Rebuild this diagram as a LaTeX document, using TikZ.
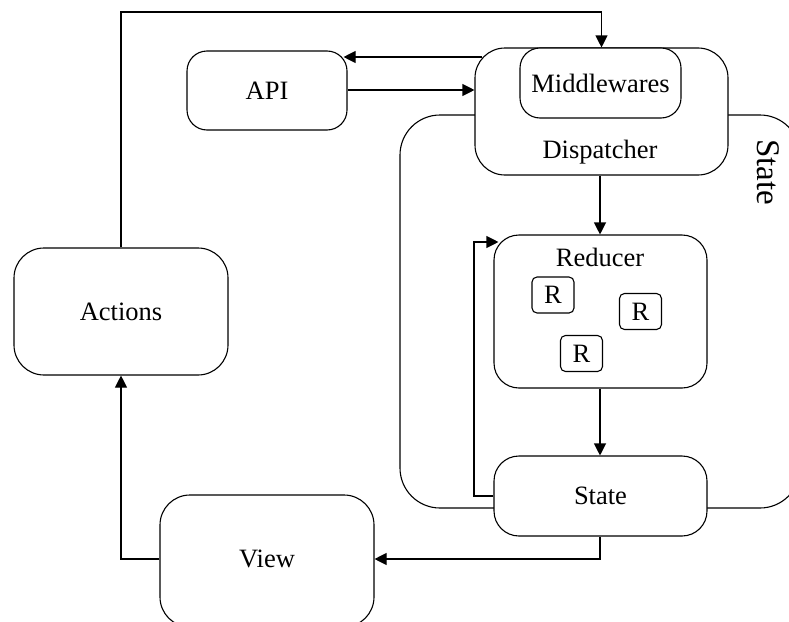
\documentclass[tikz,border=0pt]{standalone}
\usepackage{fontspec}
\setmainfont{Liberation Serif}
\usetikzlibrary{arrows.meta,calc}
\begin{document}
\begin{tikzpicture}[x=1pt,y=-1pt,
  line width=1.1pt,
  box/.style={draw, fill=white, rounded corners=#1, inner sep=0pt, font=\fontsize{26.5}{31}\selectfont},
  box/.default=28pt,
  rbox/.style={draw, fill=white, rounded corners=5pt, inner sep=0pt, minimum width=42pt, minimum height=36pt, font=\fontsize{26.5}{31}\selectfont},
  arr/.style={-{Triangle[width=12pt,length=12pt]}},
  lbl/.style={inner sep=0pt, font=\fontsize{26.5}{31}\selectfont}]
\useasboundingbox (0,0) rectangle (789,621);
% State container
\draw[rounded corners=40pt] (400,115) rectangle (800,508);
\node[lbl, rotate=-90, font=\fontsize{33}{37}\selectfont] (statelbl) at (768,172) {State};
% nodes
\node[box=20pt, minimum width=160pt, minimum height=79pt] (api) at (267,90.5) {API};
\node[box=30pt, minimum width=253pt, minimum height=127pt] (disp) at (601.5,111.5) {};
\node[lbl] (disptext) at (600,152) {Dispatcher};
\node[box=20pt, minimum width=161pt, minimum height=70pt] (mw) at (600.5,83) {Middlewares};
\node[box=30pt, minimum width=214pt, minimum height=127pt] (actions) at (121,311.5) {Actions};
\node[box=30pt, minimum width=214pt, minimum height=132pt] (view) at (267,561) {};
\node[lbl] (viewtext) at (267,559) {View};
\node[box=25pt, minimum width=213pt, minimum height=153pt] (reducer) at (600.5,311.5) {};
\node[lbl] (redtext) at (600,257) {Reducer};
\node[rbox] (r1) at (553,295) {R};
\node[rbox] (r2) at (640.5,311.5) {R};
\node[rbox] (r3) at (581.5,353.5) {R};
\node[box=25pt, minimum width=213pt, minimum height=80pt] (state) at (600.5,496) {State};
% connectors
\draw[arr] (actions.north) -- (actions.north |- 0,12) -| (disp.north);
\draw[arr] ($(disp.west |- 0,57)+(8,0)$) -- ($(api.east |- 0,57)+(-4,0)$);
\draw[arr] (api.east |- 0,90) -- (disp.west |- 0,90);
\draw[arr] (disp.south -| 600,0) -- (reducer.north -| 600,0);
\draw[arr] (reducer.south -| 600,0) -- (state.north -| 600,0);
\draw[arr] (state.west) -- (state.west -| 474,0) -- (474,242) -- ($(reducer.west |- 0,242)+(5,0)$);
\draw[arr] (state.south -| 600,0) |- (view.east |- 0,559);
\draw[arr] (view.west |- 0,559) -| (actions.south);
\end{tikzpicture}
\end{document}
